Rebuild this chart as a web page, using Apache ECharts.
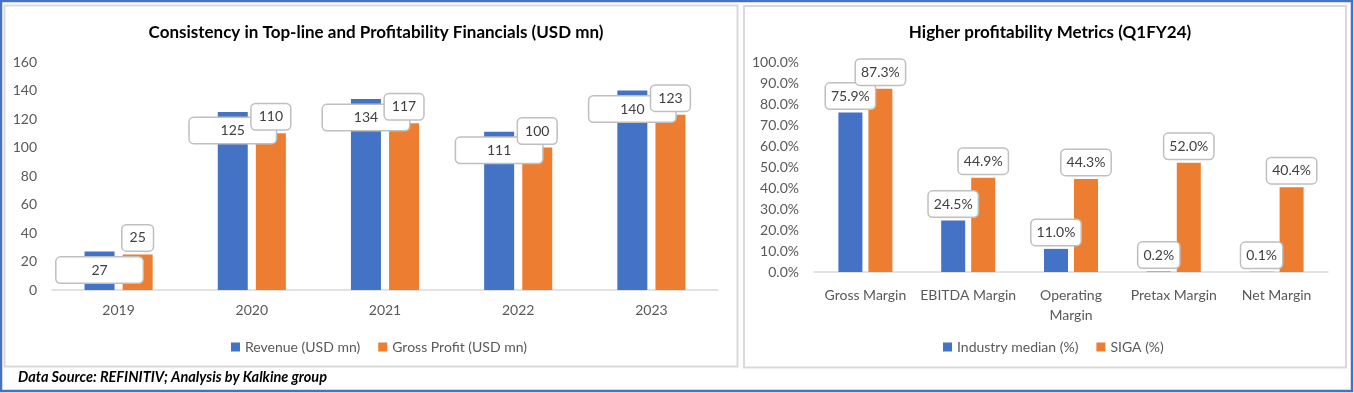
<!DOCTYPE html>
<html>
<head>
<meta charset="utf-8">
<script src="https://cdn.jsdelivr.net/npm/echarts@6/dist/echarts.min.js"></script>
<style>
html,body{margin:0;padding:0;background:#fff;}
#c{width:1354px;height:393px;}
</style>
</head>
<body>
<div id="c"></div>
<script>
// ---- Data ----
const years = ['2019', '2020', '2021', '2022', '2023'];
const revenue = [27, 125, 134, 111, 140];
const grossProfit = [25, 110, 117, 100, 123];

const metrics = ['Gross Margin', 'EBITDA Margin', 'Operating\nMargin', 'Pretax Margin', 'Net Margin'];
const industryMedian = [75.9, 24.5, 11.0, 0.2, 0.1];
const siga = [87.3, 44.9, 44.3, 52.0, 40.4];

const leftTitle = 'Consistency in Top-line and Profitability Financials (USD mn)';
const rightTitle = 'Higher profitability Metrics (Q1FY24)';
const footer = 'Data Source: REFINITIV; Analysis by Kalkine group';

// ---- Styles ----
const FONT = 'Lato, "Open Sans", sans-serif';
const BLUE = '#4472C4';
const ORANGE = '#ED7D31';
const AXIS_TXT = '#595959';
const LBL_TXT = '#404040';

const boxLabel = (extra) => Object.assign({
  show: true,
  fontFamily: FONT,
  fontSize: 14,
  color: LBL_TXT,
  backgroundColor: '#fff',
  borderColor: '#bfbfbf',
  borderWidth: 1.5,
  borderRadius: 4,
  lineHeight: 17,
  padding: [4, 7]
}, extra);

const chart = echarts.init(document.getElementById('c'), null, {renderer: 'canvas'});

const option = {
  animation: false,
  backgroundColor: '#fff',
  graphic: [
    {type: 'rect', z: -5, shape: {x: 1, y: 1, width: 1351, height: 390},
      style: {fill: '#fff', stroke: BLUE, lineWidth: 2.5}},
    {type: 'rect', z: -4, shape: {x: 4.5, y: 5.5, width: 733, height: 361},
      style: {fill: '#fff', stroke: '#d9d9d9', lineWidth: 2}},
    {type: 'rect', z: -4, shape: {x: 744, y: 6, width: 602, height: 361.5},
      style: {fill: '#fff', stroke: '#d9d9d9', lineWidth: 2}},
    {type: 'text', z: 10, left: 18, top: 370,
      style: {text: footer, font: 'italic bold 14.5px ' + FONT, fill: '#000'}}
  ],
  title: [
    {text: leftTitle, left: 371, top: 19, textAlign: 'center',
      textStyle: {fontFamily: FONT, fontSize: 17, fontWeight: 'bold', color: '#000'}},
    {text: rightTitle, left: 1045, top: 19, textAlign: 'center',
      textStyle: {fontFamily: FONT, fontSize: 17, fontWeight: 'bold', color: '#000'}}
  ],
  legend: [
    {data: ['Revenue (USD mn)', 'Gross Profit (USD mn)'], left: 226, top: 335,
      itemWidth: 9, itemHeight: 9, itemGap: 18, icon: 'rect',
      textStyle: {fontFamily: FONT, fontSize: 14, color: AXIS_TXT}},
    {data: ['Industry median (%)', 'SIGA (%)'], left: 938, top: 335,
      itemWidth: 9, itemHeight: 9, itemGap: 18, icon: 'rect',
      textStyle: {fontFamily: FONT, fontSize: 14, color: AXIS_TXT}}
  ],
  grid: [
    {left: 52, right: 636, top: 62, bottom: 103},
    {left: 814, right: 26, top: 62, bottom: 121}
  ],
  xAxis: [
    {type: 'category', gridIndex: 0, data: years,
      axisLine: {lineStyle: {color: '#d9d9d9', width: 1.5}}, axisTick: {show: false},
      axisLabel: {fontFamily: FONT, fontSize: 14, color: AXIS_TXT, margin: 13, interval: 0}},
    {type: 'category', gridIndex: 1, data: metrics,
      axisLine: {lineStyle: {color: '#d9d9d9', width: 1.5}}, axisTick: {show: false},
      axisLabel: {fontFamily: FONT, fontSize: 14, color: AXIS_TXT, margin: 13, lineHeight: 20, interval: 0}}
  ],
  yAxis: [
    {type: 'value', gridIndex: 0, min: 0, max: 160, interval: 20,
      splitLine: {show: false}, axisLine: {show: false}, axisTick: {show: false},
      axisLabel: {fontFamily: FONT, fontSize: 14, color: AXIS_TXT, margin: 15}},
    {type: 'value', gridIndex: 1, min: 0, max: 100, interval: 10,
      splitLine: {show: false}, axisLine: {show: false}, axisTick: {show: false},
      axisLabel: {fontFamily: FONT, fontSize: 14, color: AXIS_TXT, margin: 15,
        formatter: v => v.toFixed(1) + '%'}}
  ],
  series: [
    {name: 'Revenue (USD mn)', type: 'bar', xAxisIndex: 0, yAxisIndex: 0, data: revenue,
      barWidth: 30, barGap: '27%', itemStyle: {color: BLUE},
      label: boxLabel({position: 'insideTop', distance: 6, width: 70, align: 'center', padding: [4, 8]}),
      z: 2},
    {name: 'Gross Profit (USD mn)', type: 'bar', xAxisIndex: 0, yAxisIndex: 0, data: grossProfit,
      barWidth: 30, barGap: '27%', itemStyle: {color: ORANGE},
      label: boxLabel({position: 'top', distance: 4}),
      z: 2},
    {name: 'Industry median (%)', type: 'bar', xAxisIndex: 1, yAxisIndex: 1, data: industryMedian,
      barWidth: 24, barGap: '25%', itemStyle: {color: BLUE},
      label: boxLabel({position: 'top', distance: 4, padding: [4, 5], formatter: p => p.value.toFixed(1) + '%'})},
    {name: 'SIGA (%)', type: 'bar', xAxisIndex: 1, yAxisIndex: 1, data: siga,
      barWidth: 24, barGap: '25%', itemStyle: {color: ORANGE},
      label: boxLabel({position: 'top', distance: 4, padding: [4, 5], formatter: p => p.value.toFixed(1) + '%'})}
  ]
};
chart.setOption(option);
</script>
</body>
</html>
